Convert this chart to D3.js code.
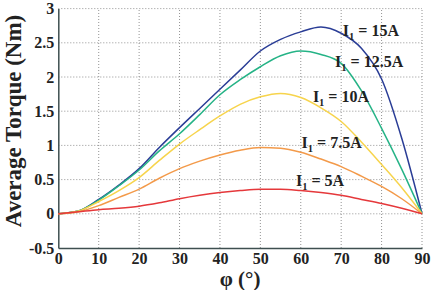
<!DOCTYPE html>
<html>
<head>
<meta charset="utf-8">
<script src="https://cdn.jsdelivr.net/npm/d3@7"></script>
<style>
  body { margin: 0; background: #fff; }
  svg text { font-family: "Liberation Serif", "Times New Roman", serif; font-weight: bold; fill: #222; }
</style>
</head>
<body>
<div id="chart"></div>
<script>
// torque vs phi, one series per current
var phi = [0, 5, 10, 15, 20, 25, 30, 35, 40, 45, 50, 55, 60, 65, 70, 75, 80, 85, 90];
var t15  = [0, 0.04, 0.21, 0.42, 0.66, 0.97, 1.26, 1.54, 1.82, 2.1, 2.38, 2.55, 2.66, 2.73, 2.64, 2.42, 1.97, 1.1, 0];
var t125 = [0, 0.04, 0.2, 0.41, 0.64, 0.92, 1.17, 1.45, 1.74, 1.96, 2.15, 2.31, 2.38, 2.33, 2.2, 1.8, 1.25, 0.65, 0];
var t10  = [0, 0.04, 0.18, 0.34, 0.53, 0.78, 1.02, 1.23, 1.43, 1.6, 1.71, 1.76, 1.7, 1.55, 1.35, 1.05, 0.72, 0.38, 0];
var t75  = [0, 0.03, 0.12, 0.24, 0.36, 0.52, 0.66, 0.77, 0.86, 0.93, 0.97, 0.96, 0.9, 0.8, 0.69, 0.55, 0.4, 0.22, 0];
var t5   = [0, 0.03, 0.06, 0.08, 0.11, 0.16, 0.22, 0.27, 0.31, 0.34, 0.36, 0.36, 0.34, 0.31, 0.27, 0.21, 0.15, 0.08, 0];

var seriesNames = ['15A', '12.5A', '10A', '7.5A', '5A'];
var seriesData = [t15, t125, t10, t75, t5];
var colors = ['#2a3d96', '#25b386', '#f7d44c', '#f39a4a', '#e5383b'];
// label baseline points in data coords (phi, torque)
var labelPos = [[70.4, 2.6], [68.5, 2.15], [63, 1.63], [60.2, 0.96], [58.8, 0.4]];

var xTicks = [0, 10, 20, 30, 40, 50, 60, 70, 80, 90];
var yTicks = [-0.5, 0, 0.5, 1, 1.5, 2, 2.5, 3];

var width = 432, height = 290;
var margin = { left: 58.3, right: 10, top: 8.6, bottom: 42 };

var svg = d3.select('#chart').append('svg')
  .attr('width', width)
  .attr('height', height);

var x = d3.scaleLinear().domain([0, 90]).range([margin.left, width - margin.right]);
var y = d3.scaleLinear().domain([-0.5, 3]).range([height - margin.bottom, margin.top]);

// dotted grid
svg.append('g').selectAll('line')
  .data(xTicks.slice(1))
  .enter().append('line')
    .attr('x1', function(d) { return x(d); })
    .attr('x2', function(d) { return x(d); })
    .attr('y1', y(-0.5))
    .attr('y2', y(3))
    .attr('stroke', '#777')
    .attr('stroke-width', 0.8)
    .attr('stroke-dasharray', '1,2');

svg.append('g').selectAll('line')
  .data(yTicks.slice(1))
  .enter().append('line')
    .attr('x1', x(0))
    .attr('x2', x(90))
    .attr('y1', function(d) { return y(d); })
    .attr('y2', function(d) { return y(d); })
    .attr('stroke', '#777')
    .attr('stroke-width', 0.8)
    .attr('stroke-dasharray', '1,2');

// axes
var xAxis = svg.append('g')
  .attr('transform', 'translate(0,' + y(-0.5) + ')')
  .call(d3.axisBottom(x).tickValues(xTicks).tickSize(0).tickPadding(5));
var yAxis = svg.append('g')
  .attr('transform', 'translate(' + x(0) + ',0)')
  .call(d3.axisLeft(y).tickValues(yTicks).tickSize(0).tickPadding(4)
    .tickFormat(function(d) { return d; }));

[xAxis, yAxis].forEach(function(a) {
  a.select('.domain').attr('stroke', '#3e4f50').attr('stroke-width', 1.5);
  a.selectAll('text')
    .style('font-size', '16px')
    .style('font-family', '"Liberation Serif", serif')
    .style('font-weight', 'bold')
    .attr('fill', '#222');
});

// curves
var line = d3.line()
  .x(function(d, i) { return x(phi[i]); })
  .y(function(d) { return y(d); })
  .curve(d3.curveMonotoneX);

svg.append('g').selectAll('path')
  .data(seriesData)
  .enter().append('path')
    .attr('d', line)
    .attr('fill', 'none')
    .attr('stroke', function(d, i) { return colors[i]; })
    .attr('stroke-width', 1.5);

// curve labels  I1 = ...
var labels = svg.append('g').selectAll('text')
  .data(seriesNames)
  .enter().append('text')
    .attr('x', function(d, i) { return x(labelPos[i][0]); })
    .attr('y', function(d, i) { return y(labelPos[i][1]); })
    .style('font-size', '16px');
labels.append('tspan').text('I');
labels.append('tspan').attr('dy', 4).style('font-size', '10.5px').text('1');
labels.append('tspan').attr('dy', -4).text(function(d) { return ' = ' + d; });

// axis titles
svg.append('text')
  .attr('x', x(45))
  .attr('y', 286)
  .attr('text-anchor', 'middle')
  .style('font-size', '21px')
  .text('\u03c6  (\u00b0)');

svg.append('text')
  .attr('transform', 'translate(21,' + 121 + ') rotate(-90)')
  .attr('text-anchor', 'middle')
  .style('font-size', '23px')
  .text('Average Torque (Nm)');
</script>
</body>
</html>
